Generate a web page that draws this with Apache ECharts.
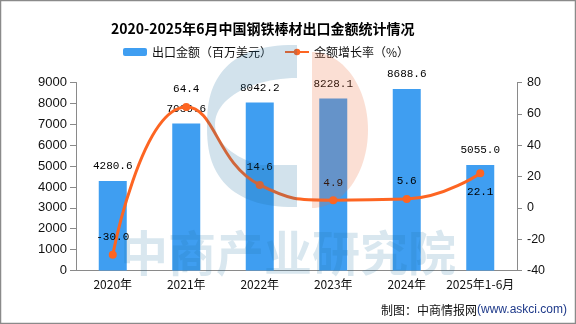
<!DOCTYPE html>
<html>
<head>
<meta charset="utf-8">
<script src="https://cdn.jsdelivr.net/npm/echarts@6/dist/echarts.min.js"></script>
<style>
  html, body { margin: 0; padding: 0; background: #fff; }
  #chart { width: 576px; height: 324px; }
</style>
</head>
<body>
<div id="chart"></div>
<script>
// 2020-2025H1 steel bar exports: value (USD million) and year-on-year growth (%)
const years = ['2020年', '2021年', '2022年', '2023年', '2024年', '2025年1-6月'];
const exportValue = [4280.6, 7036.6, 8042.2, 8228.1, 8688.6, 5055.0];
const growthRate = [-30.0, 64.4, 14.6, 4.9, 5.6, 22.1];
const leftTicks = { min: 0, max: 9000, interval: 1000 };
const rightTicks = { min: -40, max: 80, interval: 20 };

const BAR_COLOR = '#3f9ef1';
const LINE_COLOR = '#fd6522';
const AXIS_COLOR = '#8a8a8a';
const MONO = '"Liberation Mono", "DejaVu Sans Mono", monospace';
const CJK = '"Noto Sans CJK SC", "Noto Sans", sans-serif';
const LATIN = '"Liberation Sans", Arial, sans-serif';

// Faint logo mark drawn over the plot
function superEllipseHalf(cx, cy, a, b, n, steps) {
  const pts = [];
  for (let i = 0; i <= steps; i++) {
    const t = -Math.PI / 2 + Math.PI * i / steps;
    const c = Math.cos(t), s = Math.sin(t);
    const dx = -a * Math.pow(Math.abs(c), 2 / n);
    const dy = b * Math.sign(s) * Math.pow(Math.abs(s), 2 / n);
    pts.push([cx + dx, cy + dy]);
  }
  return pts;
}
function logoBlue() {
  const cx = 297, cy = 126;
  const pts = superEllipseHalf(cx, cy, 90, 81, 2.5, 60);
  pts.push([cx, 165]);
  const icx = 297, icy = 124, irx = 82, iry = 46;
  const t0 = Math.asin((165 - icy) / iry);
  const steps = 40;
  for (let i = 0; i <= steps; i++) {
    const t = t0 + (-Math.PI / 2 - t0) * i / steps;
    pts.push([icx - irx * Math.cos(t), icy + iry * Math.sin(t)]);
  }
  return pts;
}
function logoOrange() {
  const cx = 312, cy = 130, rx = 56, ry = 78;
  const pts = [];
  const steps = 60;
  for (let i = 0; i <= steps; i++) {
    const t = -Math.PI / 2 + Math.PI * i / steps;
    pts.push([cx + rx * Math.cos(t), cy + ry * Math.sin(t)]);
  }
  return pts;
}

const chart = echarts.init(document.getElementById('chart'), null, { renderer: 'canvas' });

chart.setOption({
  backgroundColor: '#fff',
  animation: false,
  title: {
    text: '2020-2025年6月中国钢铁棒材出口金额统计情况',
    left: 106,
    top: 17,
    textStyle: { fontFamily: CJK, fontSize: 14, fontWeight: 'bold', color: '#000' }
  },
  legend: {
    left: 118,
    top: 41,
    itemWidth: 24,
    itemHeight: 8,
    itemGap: 12,
    textStyle: { fontFamily: CJK, fontSize: 12, color: '#111' },
    data: ['出口金额（百万美元）', '金额增长率（%）']
  },
  grid: { left: 76, right: 59, top: 82.5, bottom: 53.5 },
  xAxis: {
    type: 'category',
    data: years,
    axisLine: { lineStyle: { color: AXIS_COLOR, width: 1 } },
    axisTick: { length: 5, lineStyle: { color: AXIS_COLOR } },
    axisLabel: { fontFamily: CJK, fontSize: 12, color: '#111', margin: 8, interval: 0 }
  },
  yAxis: [
    {
      type: 'value',
      min: leftTicks.min, max: leftTicks.max, interval: leftTicks.interval,
      splitLine: { show: false },
      axisLine: { show: true, lineStyle: { color: AXIS_COLOR } },
      axisTick: { show: true, length: 6, lineStyle: { color: AXIS_COLOR } },
      axisLabel: { fontFamily: LATIN, fontSize: 13, color: '#111', margin: 9, formatter: v => String(v) }
    },
    {
      type: 'value',
      min: rightTicks.min, max: rightTicks.max, interval: rightTicks.interval,
      splitLine: { show: false },
      axisLine: { show: true, lineStyle: { color: AXIS_COLOR } },
      axisTick: { show: true, length: 5, lineStyle: { color: AXIS_COLOR } },
      axisLabel: { fontFamily: LATIN, fontSize: 12.5, color: '#111', margin: 10, formatter: v => String(v) }
    }
  ],
  series: [
    {
      name: '出口金额（百万美元）',
      type: 'bar',
      yAxisIndex: 0,
      barWidth: 28,
      itemStyle: { color: BAR_COLOR },
      label: {
        show: true, position: 'top', distance: 9,
        fontFamily: MONO, fontSize: 11, color: '#000',
        formatter: p => p.value.toFixed(1)
      },
      data: exportValue
    },
    {
      name: '金额增长率（%）',
      type: 'line',
      yAxisIndex: 1,
      smooth: 0.5,
      symbol: 'circle',
      symbolSize: 8,
      lineStyle: { color: LINE_COLOR, width: 3 },
      itemStyle: { color: LINE_COLOR },
      label: {
        show: true, position: 'top', distance: 8,
        fontFamily: MONO, fontSize: 11, color: '#000',
        formatter: p => p.value.toFixed(1)
      },
      data: growthRate.map((v, i) => i === growthRate.length - 1
        ? { value: v, label: { position: 'bottom', distance: 9 } }
        : v)
    }
  ],
  graphic: [
    {
      type: 'polygon', z: 100, silent: true,
      shape: { points: logoBlue() },
      style: { fill: 'rgba(30,110,160,0.2)' }
    },
    {
      type: 'polygon', z: 100, silent: true,
      shape: { points: logoOrange() },
      style: { fill: 'rgba(235,110,60,0.22)' }
    },
    {
      type: 'text', z: 100, silent: true,
      x: 288, y: 253,
      style: {
        text: '中商产业研究院',
        fontFamily: CJK, fontSize: 48, fontWeight: 'bold',
        fill: 'rgba(30,110,160,0.17)',
        align: 'center', verticalAlign: 'middle'
      }
    },
    {
      type: 'text', z: 100, silent: true,
      x: 567, y: 310,
      style: {
        text: '{a|制图：中商情报网}{b|(www.askci.com)}',
        align: 'right', verticalAlign: 'middle',
        rich: {
          a: { fontFamily: CJK, fontSize: 12, fill: '#111' },
          b: { fontFamily: LATIN, fontSize: 12, fill: '#1f3a8a' }
        }
      }
    },
    {
      type: 'rect', z: 100, silent: true,
      shape: { x: 0, y: 0, width: 576, height: 324 },
      style: { fill: null, stroke: '#8a8a8a', lineWidth: 2.5 }
    }
  ]
});
</script>
</body>
</html>
